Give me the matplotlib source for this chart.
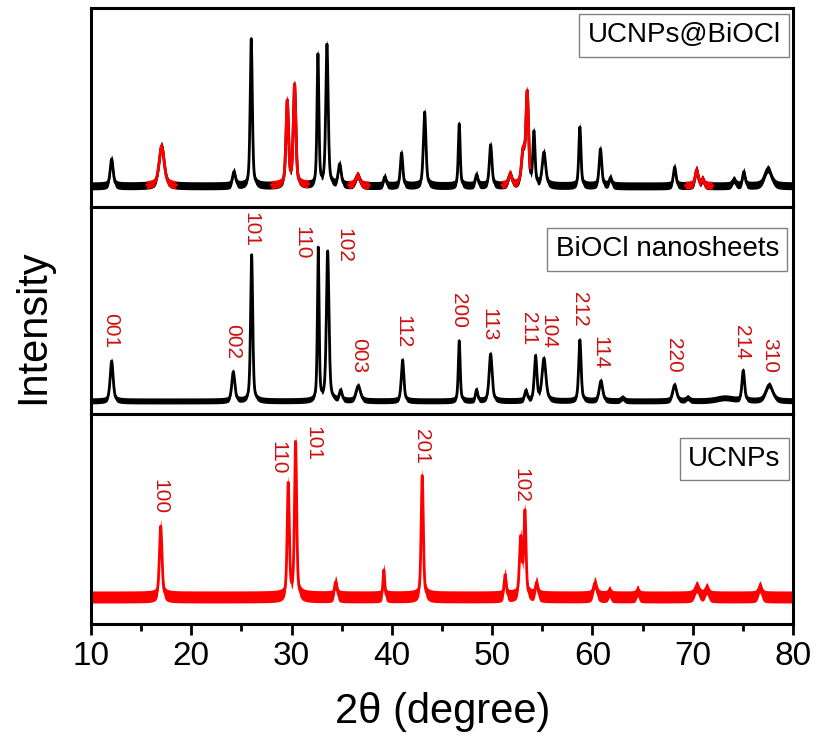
import numpy as np
import matplotlib
matplotlib.use("Agg")
import matplotlib.pyplot as plt

plt.rcParams['font.family'] = ['Liberation Sans', 'DejaVu Sans']

# ---- UCNPs@BiOCl (top) : peak position, height above baseline, fwhm
top_pos = [12.06, 17.05, 24.26, 25.98, 29.57, 30.30, 32.63, 33.53, 34.80, 36.60,
           39.30, 40.97, 43.27, 46.72, 48.45, 49.85, 51.80, 53.10, 53.50, 54.17,
           55.17, 58.75, 60.80, 61.80, 68.20, 70.40, 71.00, 74.10, 75.10, 77.50]
top_h = [27, 40, 14, 147, 84, 100, 131, 141, 21, 10,
         9, 33, 74, 62, 11, 41, 11, 33, 90, 52,
         33, 59, 37, 8, 19, 16, 6, 6, 14, 17]
top_w = [0.35, 0.60, 0.35, 0.25, 0.30, 0.30, 0.22, 0.28, 0.35, 0.50,
         0.30, 0.28, 0.30, 0.22, 0.30, 0.30, 0.40, 0.40, 0.30, 0.25,
         0.40, 0.25, 0.30, 0.30, 0.30, 0.35, 0.30, 0.40, 0.30, 0.80]
top_base = 21
top_red = [(15.6, 18.5), (28.0, 31.7), (35.7, 37.75), (51.0, 53.8), (69.3, 72.0)]

# ---- BiOCl nanosheets (middle)
mid_pos = [12.06, 24.19, 26.02, 32.66, 33.60, 34.90, 36.65, 41.07, 46.72, 48.45,
           49.85, 53.37, 54.33, 55.17, 58.75, 60.85, 63.00, 68.20, 69.50, 73.20,
           75.04, 77.63]
mid_h = [40, 29, 146, 152, 149, 10, 15, 41, 60, 11,
         47, 10, 44, 42, 61, 20, 3, 16, 3, 3,
         30, 16]
mid_w = [0.35, 0.35, 0.25, 0.20, 0.30, 0.30, 0.50, 0.30, 0.22, 0.25,
         0.35, 0.30, 0.30, 0.45, 0.28, 0.40, 0.40, 0.45, 0.40, 2.00,
         0.30, 0.80]
mid_base = 13
mid_hkl = ['001', '002', '101', '110', '102', '003', '112', '200', '113', '211',
           '104', '212', '114', '220', '214', '310']
mid_hkl_x = [12.0, 24.1, 25.9, 31.0, 35.2, 36.65, 41.1, 46.6, 49.7, 53.6,
             55.6, 58.75, 60.75, 68.05, 74.9, 77.7]
mid_hkl_y = [83, 73, 185, 171.5, 169, 58.5, 82.5, 103.5, 89.5, 85.5,
             83, 104.5, 61.5, 58.5, 71.5, 58.5]

# ---- UCNPs (bottom)
bot_pos = [16.95, 29.67, 30.40, 34.40, 39.20, 43.03, 51.30, 52.85, 53.27,
           54.43, 60.25, 61.70, 64.50, 70.40, 71.40, 76.70]
bot_h = [71, 113, 154, 15, 27, 122, 22, 58, 84,
         14, 14, 5, 6, 10, 8, 10]
bot_w = [0.30, 0.25, 0.25, 0.30, 0.20, 0.25, 0.25, 0.30, 0.25,
         0.30, 0.40, 0.30, 0.30, 0.50, 0.40, 0.40]
bot_base = 27
bot_hkl = ['100', '110', '101', '201', '102']
bot_hkl_x = [16.9, 28.6, 32.1, 43.0, 52.9]
bot_hkl_y = [127.5, 166.5, 180, 177.5, 139]

x = np.linspace(10, 80, 3501)


def pattern(pos, h, w, base):
    y = np.full_like(x, float(base))
    for c, a, f in zip(pos, h, w):
        d = 4 * (x - c) ** 2 / f ** 2
        y += a * (0.5 * np.exp(-np.log(2) * d) + 0.5 / (1 + d))
    return y


def trace(ax, y, color, noise, mask=None):
    if mask is not None:
        y = np.where(mask, y, np.nan)
    ax.fill_between(x, y - noise, y + noise, color=color, lw=0)
    ax.plot(x, y, color=color, lw=2.0)


fig = plt.figure(figsize=(8.19, 7.42), dpi=100)
gs = fig.add_gridspec(3, 1, height_ratios=[199, 207, 210], hspace=0,
                      left=91/819, right=793/819, top=1-8/742, bottom=1-624/742)
ax1 = fig.add_subplot(gs[0])
ax2 = fig.add_subplot(gs[1], sharex=ax1)
ax3 = fig.add_subplot(gs[2], sharex=ax1)

y1 = pattern(top_pos, top_h, top_w, top_base)
trace(ax1, y1, 'black', 4)
red_mask = np.zeros_like(x, dtype=bool)
for a, b in top_red:
    red_mask |= (x >= a) & (x <= b)
trace(ax1, y1, '#ff0000', 4, red_mask)

y2 = pattern(mid_pos, mid_h, mid_w, mid_base)
trace(ax2, y2, 'black', 3)

y3 = pattern(bot_pos, bot_h, bot_w, bot_base)
trace(ax3, y3, '#ff0000', 6)

lab_col = '#cc1111'
for t, xx, yy in zip(mid_hkl, mid_hkl_x, mid_hkl_y):
    ax2.text(xx, yy, t, rotation=-90, ha='center', va='center', fontsize=15, color=lab_col)
for t, xx, yy in zip(bot_hkl, bot_hkl_x, bot_hkl_y):
    ax3.text(xx, yy, t, rotation=-90, ha='center', va='center', fontsize=15, color=lab_col)

box = dict(boxstyle='square,pad=0.3', fc='white', ec='#808080', lw=1)
ax1.text(0.9825, 0.862, 'UCNPs@BiOCl', transform=ax1.transAxes, ha='right', va='center',
         fontsize=20, bbox=box)
ax2.text(0.98, 0.795, 'BiOCl nanosheets', transform=ax2.transAxes, ha='right', va='center',
         fontsize=20, bbox=box)
ax3.text(0.9825, 0.786, 'UCNPs', transform=ax3.transAxes, ha='right', va='center',
         fontsize=20, bbox=box)

for ax, hh in zip([ax1, ax2, ax3], [199, 207, 210]):
    ax.set_ylim(0, hh)
    ax.set_xlim(10, 80)
    ax.set_yticks([])
    for s in ax.spines.values():
        s.set_linewidth(2.2)
for ax in [ax1, ax2]:
    ax.tick_params(axis='x', which='both', bottom=False, labelbottom=False)

ax3.set_xticks(np.arange(10, 81, 10))
ax3.set_xticks(np.arange(15, 80, 10), minor=True)
ax3.tick_params(axis='x', which='major', direction='out', length=8, width=2, labelsize=24, pad=4)
ax3.tick_params(axis='x', which='minor', direction='out', length=5, width=2)

fig.text(443/819, 1-712/742, '2θ (degree)', ha='center', va='center', fontsize=30)
fig.text(33/819, 1-327/742, 'Intensity', ha='center', va='center', rotation=90, fontsize=30)

fig.savefig('out.png', dpi=100)
